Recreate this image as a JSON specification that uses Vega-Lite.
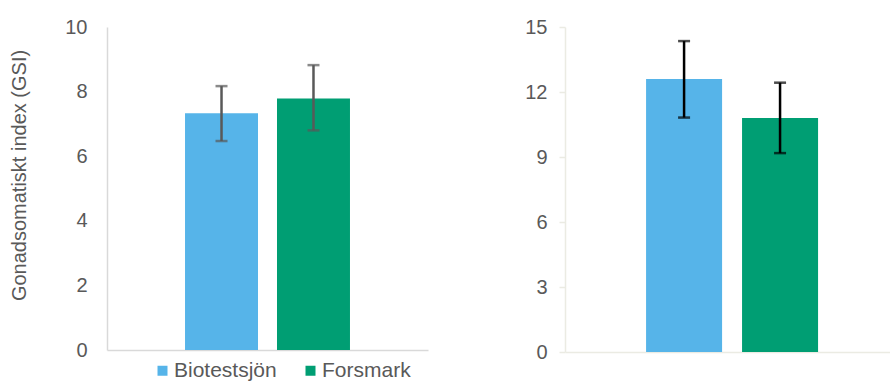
{
  "$schema": "https://vega.github.io/schema/vega-lite/v6.json",
  "background": "white",
  "padding": {"left": 9, "top": 17, "right": 0, "bottom": 0},
  "spacing": 96,
  "config": {
    "view": {"stroke": null},
    "font": "Liberation Sans",
    "axis": {"labelFont": "Liberation Sans", "titleFont": "Liberation Sans", "labelColor": "#595959", "titleColor": "#595959", "grid": false},
    "legend": {"labelFont": "Liberation Sans"}
  },
  "datasets": {
    "gsi": [
      {"panel": "A", "grp": "g", "site": "Biotestsjön", "mean": 7.33, "lo": 6.47, "hi": 8.17},
      {"panel": "A", "grp": "g", "site": "Forsmark", "mean": 7.79, "lo": 6.8, "hi": 8.82},
      {"panel": "B", "grp": "g", "site": "Biotestsjön", "mean": 12.6, "lo": 10.82, "hi": 14.35},
      {"panel": "B", "grp": "g", "site": "Forsmark", "mean": 10.8, "lo": 9.18, "hi": 12.43}
    ]
  },
  "resolve": {"scale": {"x": "independent", "xOffset": "independent", "y": "independent"}, "legend": {"color": "independent"}},
  "hconcat": [
    {
      "width": 321,
      "height": 323,
      "data": {"name": "gsi"},
      "transform": [{"filter": "datum.panel == 'A'"}],
      "encoding": {
        "x": {"field": "grp", "type": "nominal", "scale": {"paddingInner": 0, "paddingOuter": 0.473},
          "axis": {"labels": false, "ticks": false, "title": null, "domainColor": "#d9d9d9", "domainWidth": 1.5}},
        "xOffset": {"field": "site", "type": "nominal", "sort": ["Biotestsjön", "Forsmark"], "scale": {"paddingInner": 0.2065, "paddingOuter": 0}}
      },
      "layer": [
        {
          "mark": {"type": "bar"},
          "encoding": {
            "y": {"field": "mean", "type": "quantitative", "scale": {"domain": [0, 10], "nice": false},
              "axis": {"title": "Gonadsomatiskt index (GSI)", "values": [0, 2, 4, 6, 8, 10], "ticks": false,
                "domainColor": "#d9d9d9", "domainWidth": 1.5, "labelFontSize": 20, "labelPadding": 20,
                "titleFontSize": 20, "titleFontWeight": "normal", "titlePadding": 35, "titleY": 148}},
            "color": {"field": "site", "type": "nominal",
              "scale": {"domain": ["Biotestsjön", "Forsmark"], "range": ["#56B4E9", "#009E73"]},
              "legend": {"title": null, "orient": "none", "direction": "horizontal", "legendX": 45, "legendY": 333,
                "symbolType": "square", "symbolSize": 100, "symbolStrokeWidth": 0, "labelFontSize": 21,
                "labelColor": "#595959", "labelOffset": 1, "columnPadding": 23, "padding": 0}}
          }
        },
        {
          "mark": {"type": "rule", "color": "#595959", "strokeWidth": 2.5},
          "encoding": {"y": {"field": "lo", "type": "quantitative", "scale": {"domain": [0, 10], "nice": false}}, "y2": {"field": "hi"}}
        },
        {
          "mark": {"type": "tick", "orient": "horizontal", "color": "#595959", "size": 12, "thickness": 2.5},
          "encoding": {"y": {"field": "lo", "type": "quantitative", "scale": {"domain": [0, 10], "nice": false}}}
        },
        {
          "mark": {"type": "tick", "orient": "horizontal", "color": "#595959", "size": 12, "thickness": 2.5},
          "encoding": {"y": {"field": "hi", "type": "quantitative", "scale": {"domain": [0, 10], "nice": false}}}
        }
      ]
    },
    {
      "width": 327,
      "height": 325,
      "data": {"name": "gsi"},
      "transform": [{"filter": "datum.panel == 'B'"}],
      "encoding": {
        "x": {"field": "grp", "type": "nominal", "scale": {"paddingInner": 0, "paddingOuter": 0.4506, "align": 0.523},
          "axis": {"labels": false, "ticks": false, "title": null, "domainColor": "#ebebe3", "domainWidth": 1.5}},
        "xOffset": {"field": "site", "type": "nominal", "sort": ["Biotestsjön", "Forsmark"], "scale": {"paddingInner": 0.208, "paddingOuter": 0}}
      },
      "layer": [
        {
          "mark": {"type": "bar"},
          "encoding": {
            "y": {"field": "mean", "type": "quantitative", "scale": {"domain": [0, 15], "nice": false},
              "axis": {"title": null, "values": [0, 3, 6, 9, 12, 15], "ticks": true, "tickSize": 6,
                "tickColor": "#ebebe3", "tickWidth": 1.5, "domainColor": "#ebebe3", "domainWidth": 1.5,
                "labelFontSize": 20, "labelPadding": 12}},
            "color": {"field": "site", "type": "nominal",
              "scale": {"domain": ["Biotestsjön", "Forsmark"], "range": ["#56B4E9", "#009E73"]},
              "legend": null}
          }
        },
        {
          "mark": {"type": "rule", "color": "#000000", "strokeWidth": 2.5},
          "encoding": {"y": {"field": "lo", "type": "quantitative", "scale": {"domain": [0, 15], "nice": false}}, "y2": {"field": "hi"}}
        },
        {
          "mark": {"type": "tick", "orient": "horizontal", "color": "#000000", "size": 12, "thickness": 2.5},
          "encoding": {"y": {"field": "lo", "type": "quantitative", "scale": {"domain": [0, 15], "nice": false}}}
        },
        {
          "mark": {"type": "tick", "orient": "horizontal", "color": "#000000", "size": 12, "thickness": 2.5},
          "encoding": {"y": {"field": "hi", "type": "quantitative", "scale": {"domain": [0, 15], "nice": false}}}
        }
      ]
    }
  ]
}
